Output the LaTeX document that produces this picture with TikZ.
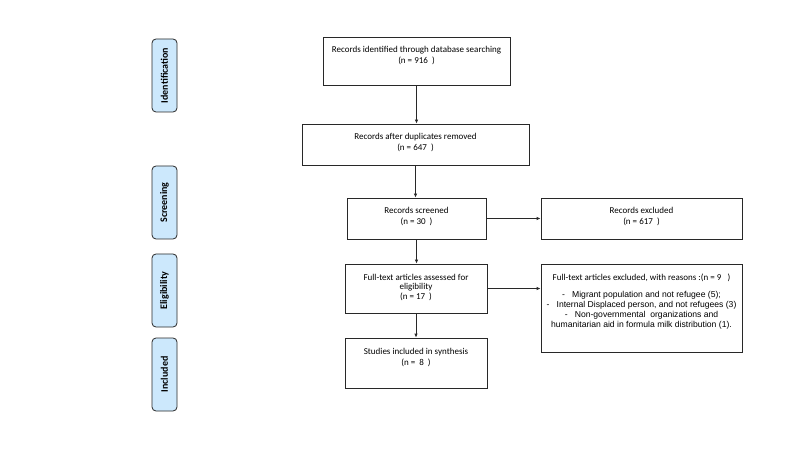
\documentclass[tikz,border=0pt]{standalone}
\usepackage{fontspec}
\setmainfont{Carlito}
\newfontfamily\arialf{Liberation Sans}
\usetikzlibrary{arrows.meta}
\definecolor{sidefill}{RGB}{204,232,252}
\definecolor{linecol}{RGB}{40,40,40}
\tikzset{
  flowbox/.style={draw=linecol, line width=0.8pt, rectangle, inner sep=0pt},
  boxtext/.style={anchor=north, align=center, inner sep=0pt, font=\fontsize{9}{11}\selectfont},
  sidebox/.style={draw=linecol, line width=0.8pt, fill=sidefill, rounded corners=4pt,
    minimum width=25pt, minimum height=73pt, inner sep=0pt},
  sidetext/.style={rotate=90, font=\fontsize{10}{12}\selectfont\bfseries},
  arr/.style={draw=linecol, line width=0.8pt, -{Latex[length=4pt,width=3.5pt]}}
}
\begin{document}
\begin{tikzpicture}[x=1pt,y=-1pt]
\useasboundingbox[fill=white] (0,0) rectangle (798,449);

% side labels
\node[sidebox] (sid) at (164.5,75.5) {};
\node[sidetext] (sidt) at (sid) {Identification};
\node[sidebox] (ssc) at (164.5,202.5) {};
\node[sidetext] (ssct) at (ssc) {Screening};
\node[sidebox] (sel) at (164.5,290.5) {};
\node[sidetext] (selt) at (sel) {Eligibility};
\node[sidebox] (sin) at (164.5,374.5) {};
\node[sidetext] (sint) at (sin) {Included};

% main boxes
\node[flowbox, minimum width=187pt, minimum height=48pt] (b1) at (416.5,61) {};
\node[boxtext] (t1) at ([yshift=-9pt]b1.north) {Records identified through database searching\\(n = 916\ \ )};

\node[flowbox, minimum width=227pt, minimum height=41pt] (b2) at (415.5,144.5) {};
\node[boxtext] (t2) at ([yshift=-9.5pt]b2.north) {Records after duplicates removed\\(n = 647\ \ )};

\node[flowbox, minimum width=139pt, minimum height=41pt] (b3) at (416.5,218.5) {};
\node[boxtext] (t3) at ([yshift=-9.5pt]b3.north) {Records screened\\(n = 30\ \ )};

\node[flowbox, minimum width=201pt, minimum height=41pt] (e1) at (641.5,218.5) {};
\node[boxtext] (te1) at ([yshift=-9.5pt]e1.north) {Records excluded\\(n = 617\ \ )};

\node[flowbox, minimum width=142pt, minimum height=49pt] (b4) at (416,288.5) {};
\node[boxtext, font=\fontsize{9}{9.8}\selectfont] (t4) at ([yshift=-10pt]b4.north) {Full-text articles assessed for\\eligibility\\(n = 17\ \ )};

\node[flowbox, minimum width=201pt, minimum height=88pt] (e2) at (641.5,308) {};
\node[boxtext] (te2a) at ([yshift=-10.5pt]e2.north) {Full-text articles excluded, with reasons :(n = 9\ \ \ )};
\node[boxtext, font=\arialf\fontsize{8.6}{10}\selectfont] (te2b) at ([yshift=-27.5pt]e2.north)
 {-\ \ \ Migrant population and not refugee (5);\\
  -\ \ \ Internal Displaced person, and not refugees (3)\\
  -\ \ \ Non-governmental\ \ organizations and\\
  humanitarian aid in formula milk distribution (1).};

\node[flowbox, minimum width=142pt, minimum height=50pt] (b5) at (416,363) {};
\node[boxtext] (t5) at ([yshift=-10pt]b5.north) {Studies included in synthesis\\(n =\ \ 8\ \ )};

% connectors
\draw[arr] (b1.south) -- (b1.south |- b2.north);
\draw[arr] (b2.south) -- (b2.south |- b3.north);
\draw[arr] (b3.south) -- (b3.south |- b4.north);
\draw[arr] (b4.south) -- (b4.south |- b5.north);
\draw[arr] (b3.east) -- (e1.west);
\draw[arr] (b4.east) -- (b4.east -| e2.west);
\end{tikzpicture}
\end{document}
